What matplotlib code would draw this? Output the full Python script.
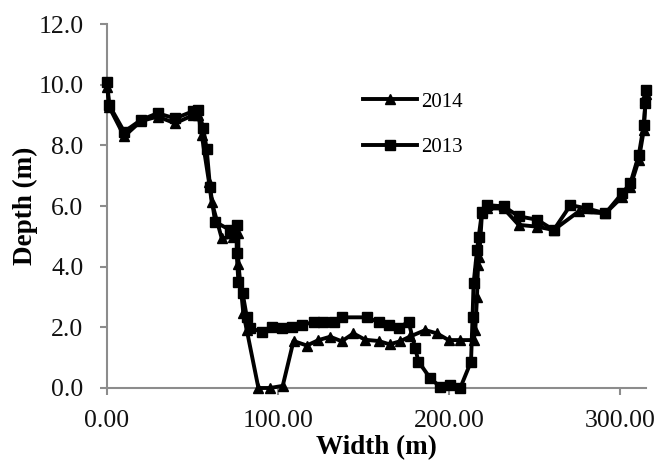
import matplotlib.pyplot as plt
from matplotlib.ticker import FormatStrFormatter

plt.rcParams["font.family"] = ["Liberation Serif", "DejaVu Serif"]

# cross-section profiles, width (m) vs depth (m)
width_2014 = [0.2, 1.3, 10.1, 19.9, 29.6, 39.8, 50.5, 53.4, 55.4, 59.6, 61.2, 67.1,
              73.5, 76.8, 76.8, 79.7, 81.7, 88.5, 95.3, 102.7, 109.0, 116.8, 123.6,
              130.4, 137.2, 144.0, 150.9, 158.7, 165.1, 171.3, 177.2, 186.0, 192.8,
              199.6, 206.4, 214.2, 215.2, 216.2, 216.8, 217.5, 219.1, 222.0, 231.8,
              240.5, 251.3, 261.0, 275.6, 291.2, 301.0, 305.8, 310.7, 313.6, 314.6,
              315.0]
depth_2014 = [9.93, 9.27, 8.30, 8.80, 8.95, 8.73, 9.00, 9.00, 8.34, 6.80, 6.14, 4.93,
              4.99, 5.10, 4.10, 2.46, 1.91, 0.00, 0.00, 0.07, 1.55, 1.40, 1.58, 1.69,
              1.54, 1.80, 1.59, 1.55, 1.44, 1.54, 1.70, 1.91, 1.80, 1.58, 1.58, 1.58,
              1.91, 3.01, 4.06, 4.33, 5.76, 5.92, 5.92, 5.38, 5.32, 5.21, 5.82, 5.76,
              6.30, 6.64, 7.52, 8.50, 9.50, 9.70]

width_2013 = [0.2, 1.3, 10.1, 19.9, 29.6, 39.8, 50.5, 53.4, 56.3, 58.3, 60.2, 63.2,
              71.9, 75.8, 75.8, 76.8, 79.3, 81.7, 83.6, 90.4, 96.3, 102.1, 108.0,
              113.9, 120.7, 126.5, 132.4, 137.2, 151.9, 158.7, 164.5, 170.4, 176.2,
              180.1, 182.0, 188.9, 194.7, 200.6, 206.4, 212.7, 213.6, 214.2, 216.2,
              217.2, 219.1, 222.0, 231.8, 240.5, 251.3, 261.0, 270.8, 280.5, 291.2,
              301.0, 305.8, 310.7, 313.6, 314.6, 315.0]
depth_2013 = [10.10, 9.33, 8.45, 8.84, 9.06, 8.89, 9.13, 9.17, 8.56, 7.87, 6.64, 5.48,
              5.21, 5.37, 4.44, 3.50, 3.12, 2.35, 1.97, 1.86, 2.02, 1.97, 2.02, 2.08,
              2.17, 2.17, 2.17, 2.33, 2.33, 2.17, 2.08, 1.97, 2.19, 1.31, 0.87, 0.32,
              0.04, 0.10, 0.00, 0.87, 2.35, 3.45, 4.55, 4.99, 5.81, 6.03, 5.99, 5.66,
              5.55, 5.21, 6.03, 5.92, 5.76, 6.42, 6.75, 7.68, 8.67, 9.39, 9.83]

fig = plt.figure(figsize=(6.6, 4.63), dpi=100)
ax = fig.add_axes([0.162, 0.162, 0.817, 0.786])

ax.plot(width_2014, depth_2014, color="black", lw=2.8, marker="^", ms=7,
        label="2014", clip_on=False, zorder=3)
ax.plot(width_2013, depth_2013, color="black", lw=2.8, marker="s", ms=6.5,
        label="2013", clip_on=False, zorder=3)

ax.set_xlim(0, 315)
ax.set_ylim(0, 12)
ax.set_xticks([0, 100, 200, 300])
ax.set_yticks([0, 2, 4, 6, 8, 10, 12])
ax.xaxis.set_major_formatter(FormatStrFormatter("%.2f"))
ax.yaxis.set_major_formatter(FormatStrFormatter("%.1f"))

for side in ("top", "right"):
    ax.spines[side].set_visible(False)
for side in ("left", "bottom"):
    ax.spines[side].set_color("#8c8c8c")
    ax.spines[side].set_linewidth(1.5)
ax.tick_params(colors="#8c8c8c", width=1.5, length=5, labelcolor="#111111",
               labelsize=18.5)
ax.tick_params(axis="x", pad=11)
ax.tick_params(axis="y", pad=12)

ax.set_xlabel("Width (m)", fontsize=19.5, fontweight="bold", labelpad=2)
ax.set_ylabel("Depth (m)", fontsize=19.5, fontweight="bold", labelpad=0)

ax.legend(loc="upper left", bbox_to_anchor=(0.44, 0.865), frameon=False,
          fontsize=15, handlelength=2.6, labelspacing=1.25, handletextpad=0.2)

fig.savefig("out.png", dpi=100)
